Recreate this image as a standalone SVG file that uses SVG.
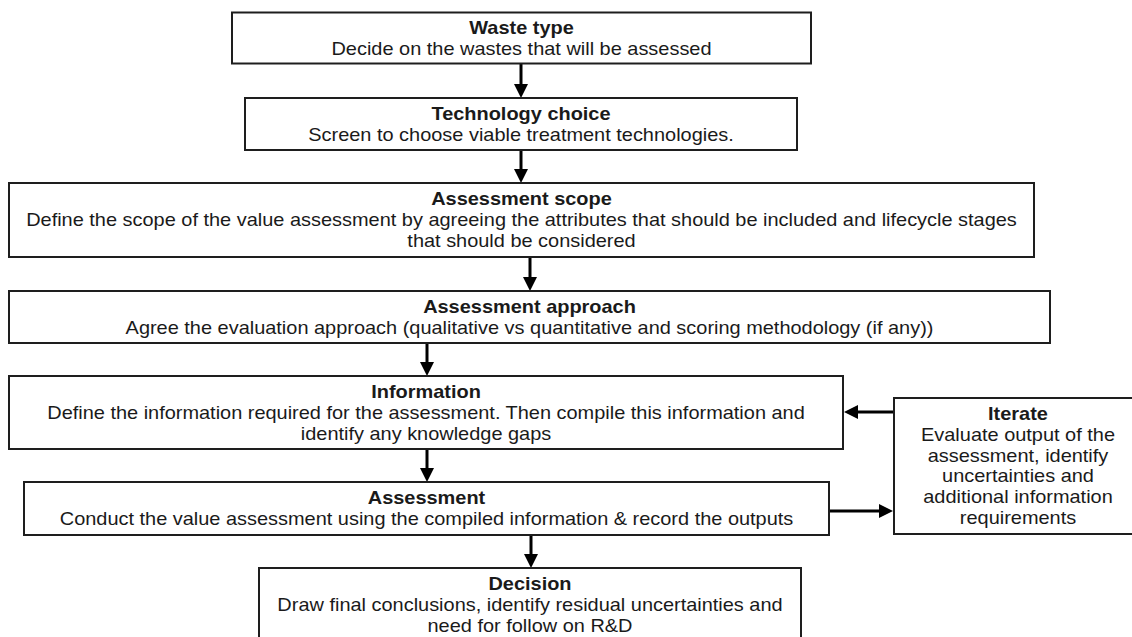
<svg xmlns="http://www.w3.org/2000/svg" width="1132" height="637" viewBox="0 0 1132 637">
<style>
.box{fill:#fff;stroke:#1e1e1e;stroke-width:2}
.t{font-family:"Liberation Sans",Arial,sans-serif;font-size:17.5px;fill:#1a1a1a;text-anchor:middle}
.h{font-weight:bold}
.c{stroke:#000;stroke-width:3;fill:none}
</style>
<defs>
<marker id="ah" markerUnits="userSpaceOnUse" viewBox="0 0 14 14" markerWidth="14" markerHeight="14" refX="6" refY="7" orient="auto">
<path d="M0,0 L14,7 L0,14 z" fill="#000"/>
</marker>
</defs>
<rect width="1132" height="637" fill="#fff"/>
<g id="connectors">
<line class="c" x1="521" y1="64" x2="521" y2="90" marker-end="url(#ah)"/>
<line class="c" x1="521" y1="151" x2="521" y2="175" marker-end="url(#ah)"/>
<line class="c" x1="530" y1="258" x2="530" y2="283" marker-end="url(#ah)"/>
<line class="c" x1="427" y1="344" x2="427" y2="368" marker-end="url(#ah)"/>
<line class="c" x1="427" y1="450" x2="427" y2="474" marker-end="url(#ah)"/>
<line class="c" x1="531" y1="536" x2="531" y2="560" marker-end="url(#ah)"/>
<line class="c" x1="893" y1="412" x2="852" y2="412" marker-end="url(#ah)"/>
<line class="c" x1="830" y1="511" x2="885" y2="511" marker-end="url(#ah)"/>
</g>
<g id="waste-type">
<rect class="box" x="232" y="12.5" width="579" height="51"/>
<text class="t h" transform="translate(521.5,33.5) scale(1.14,1)">Waste type</text>
<text class="t" transform="translate(521.5,54.5) scale(1.14,1)">Decide on the wastes that will be assessed</text>
</g>
<g id="technology-choice">
<rect class="box" x="245" y="98" width="552" height="52"/>
<text class="t h" transform="translate(521,119.5) scale(1.14,1)">Technology choice</text>
<text class="t" transform="translate(521,140.5) scale(1.14,1)">Screen to choose viable treatment technologies.</text>
</g>
<g id="assessment-scope">
<rect class="box" x="9" y="183" width="1025" height="74"/>
<text class="t h" transform="translate(521.5,205) scale(1.14,1)">Assessment scope</text>
<text class="t" transform="translate(521.5,226) scale(1.14,1)">Define the scope of the value assessment by agreeing the attributes that should be included and lifecycle stages</text>
<text class="t" transform="translate(521.5,247) scale(1.14,1)">that should be considered</text>
</g>
<g id="assessment-approach">
<rect class="box" x="9" y="291" width="1041" height="52"/>
<text class="t h" transform="translate(529.5,312.5) scale(1.14,1)">Assessment approach</text>
<text class="t" transform="translate(529.5,333.5) scale(1.14,1)">Agree the evaluation approach (qualitative vs quantitative and scoring methodology (if any))</text>
</g>
<g id="information">
<rect class="box" x="9" y="376" width="834" height="73"/>
<text class="t h" transform="translate(426,398) scale(1.14,1)">Information</text>
<text class="t" transform="translate(426,419) scale(1.14,1)">Define the information required for the assessment. Then compile this information and</text>
<text class="t" transform="translate(426,439.5) scale(1.14,1)">identify any knowledge gaps</text>
</g>
<g id="assessment">
<rect class="box" x="24" y="482" width="805" height="53"/>
<text class="t h" transform="translate(426.5,504) scale(1.14,1)">Assessment</text>
<text class="t" transform="translate(426.5,525) scale(1.14,1)">Conduct the value assessment using the compiled information &amp; record the outputs</text>
</g>
<g id="decision">
<rect class="box" x="259" y="568" width="542" height="80"/>
<text class="t h" transform="translate(530,589.5) scale(1.14,1)">Decision</text>
<text class="t" transform="translate(530,610.5) scale(1.14,1)">Draw final conclusions, identify residual uncertainties and</text>
<text class="t" transform="translate(530,631.5) scale(1.14,1)">need for follow on R&amp;D</text>
</g>
<g id="iterate">
<rect class="box" x="894" y="398" width="250" height="136"/>
<text class="t h" transform="translate(1018,420) scale(1.14,1)">Iterate</text>
<text class="t" transform="translate(1018,441) scale(1.14,1)">Evaluate output of the</text>
<text class="t" transform="translate(1018,461.5) scale(1.14,1)">assessment, identify</text>
<text class="t" transform="translate(1018,482) scale(1.14,1)">uncertainties and</text>
<text class="t" transform="translate(1018,503) scale(1.14,1)">additional information</text>
<text class="t" transform="translate(1018,523.5) scale(1.14,1)">requirements</text>
</g>
</svg>
